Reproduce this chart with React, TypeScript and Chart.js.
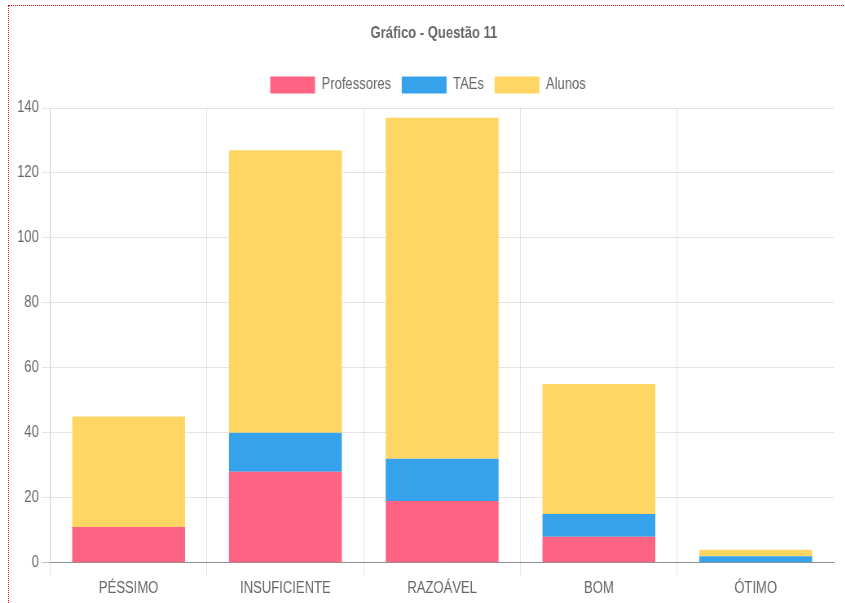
import React, { useEffect, useRef } from "react";
import { Chart, registerables } from "chart.js";

Chart.register(...registerables);

const categories = ["PÉSSIMO", "INSUFICIENTE", "RAZOÁVEL", "BOM", "ÓTIMO"];
const professores = [11, 28, 19, 8, 0];
const taes = [0, 12, 13, 7, 2];
const alunos = [34, 87, 105, 40, 2];

const FONT = "'Liberation Sans', Arial, Helvetica, sans-serif";
const SX = 0.815;
const W = 1026;
const H = 597;

const layoutTweaks = {
  id: "layoutTweaks",
  beforeLayout(chart: any) {
    const l = chart.legend;
    if (l && !l._gapPatched) {
      const f = l.fit;
      l.fit = function () {
        f.call(this);
        this.height += 4.5;
      };
      l._gapPatched = true;
    }
  },
  afterLayout(chart: any) {
    const t = chart.titleBlock;
    if (t) {
      t.left += 12.3;
      t.right += 12.3;
    }
    const l = chart.legend;
    if (l) {
      l.left += 5;
      l.right += 5;
    }
  },
};

export default function App() {
  const ref = useRef<HTMLCanvasElement | null>(null);
  useEffect(() => {
    if (!ref.current) return;
    const chart = new Chart(ref.current, {
      type: "bar",
      data: {
        labels: categories,
        datasets: [
          { label: "Professores", data: professores, backgroundColor: "rgb(255, 99, 132)" },
          { label: "TAEs", data: taes, backgroundColor: "rgb(54, 162, 235)" },
          { label: "Alunos", data: alunos, backgroundColor: "rgb(255, 214, 100)" },
        ],
      },
      options: {
        responsive: false,
        animation: false,
        devicePixelRatio: 1,
        layout: { padding: { left: 5.9, right: 13.7, top: 0, bottom: 1.1 } },
        plugins: {
          title: {
            display: true,
            text: "Gráfico - Questão 11",
            color: "#666",
            font: { family: FONT, size: 16, weight: "bold" },
            padding: { top: 17.9, bottom: 20.4 },
          },
          legend: {
            position: "top",
            labels: {
              color: "#666",
              font: { family: FONT, size: 16 },
              boxWidth: 55,
              boxHeight: 17,
              padding: 13,
            },
          },
          tooltip: { enabled: false },
        },
        scales: {
          x: {
            stacked: true,
            grid: {
              color: (ctx: any) => (ctx.tick ? "rgba(0,0,0,0.1)" : "rgba(0,0,0,0)"),
              tickLength: 13,
            },
            border: { color: "rgba(0,0,0,0.25)" },
            ticks: { color: "#666", font: { family: FONT, size: 16 }, padding: 3.5 },
          },
          y: {
            stacked: true,
            min: 0,
            max: 140,
            grid: {
              color: (ctx: any) =>
                ctx.tick && ctx.tick.value === 0 ? "rgba(0,0,0,0.25)" : "rgba(0,0,0,0.1)",
              tickLength: 10,
            },
            border: { color: "rgba(0,0,0,0.1)" },
            ticks: { stepSize: 20, color: "#666", font: { family: FONT, size: 16 }, padding: 4 },
          },
        },
      },
      plugins: [layoutTweaks],
    });
    return () => chart.destroy();
  }, []);

  return (
    <div
      style={{
        position: "absolute",
        left: 8,
        top: 5,
        border: "1px dotted red",
        width: 900,
        height: 640,
        background: "#fff",
        overflow: "hidden",
      }}
    >
      <canvas
        ref={ref}
        width={W}
        height={H}
        style={{
          display: "block",
          transform: `scaleX(${SX})`,
          transformOrigin: "0 0",
        }}
      />
    </div>
  );
}
